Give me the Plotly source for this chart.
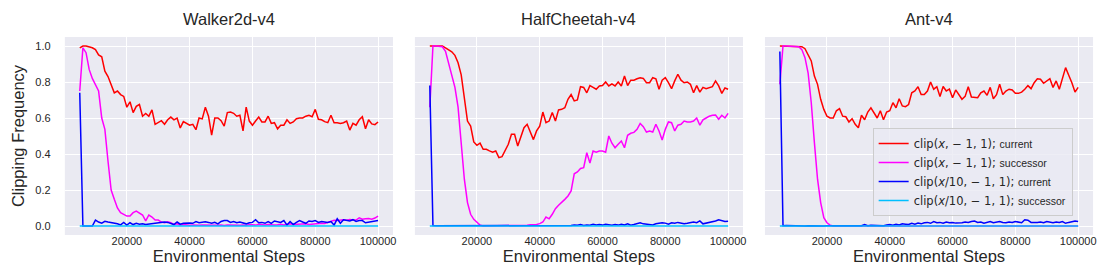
import plotly.graph_objects as go

steps = list(range(5000, 100001, 1000))

envs = ["Walker2d-v4", "HalfCheetah-v4", "Ant-v4"]
xticks = [20000, 40000, 60000, 80000, 100000]
yticks = [0.0, 0.2, 0.4, 0.6, 0.8, 1.0]

walker_cur = [0.99, 1.0, 1.0, 0.995, 0.99, 0.98, 0.95, 0.94, 0.86, 0.83,
              0.79, 0.74, 0.75, 0.73, 0.72, 0.66, 0.69, 0.63, 0.665, 0.675,
              0.61, 0.625, 0.61, 0.645, 0.565, 0.575, 0.585, 0.565, 0.59, 0.605,
              0.59, 0.60, 0.545, 0.58, 0.57, 0.56, 0.565, 0.535, 0.60, 0.595,
              0.66, 0.61, 0.505, 0.60, 0.60, 0.585, 0.555, 0.63, 0.633, 0.626,
              0.61, 0.615, 0.528, 0.66, 0.583, 0.56, 0.583, 0.605, 0.578, 0.578,
              0.61, 0.57, 0.574, 0.54, 0.56, 0.56, 0.59, 0.57, 0.578, 0.596,
              0.60, 0.60, 0.61, 0.615, 0.607, 0.648, 0.593, 0.59, 0.58, 0.574,
              0.615, 0.574, 0.574, 0.57, 0.574, 0.583, 0.533, 0.57, 0.56, 0.59,
              0.607, 0.54, 0.59, 0.567, 0.563, 0.578]
walker_succ = [0.75, 0.99, 0.963, 0.87, 0.82, 0.787, 0.75, 0.60, 0.537, 0.36,
               0.20, 0.148, 0.10, 0.074, 0.065, 0.055, 0.055, 0.074, 0.083, 0.074,
               0.061, 0.028, 0.061, 0.05, 0.033, 0.033, 0.022, 0.018, 0.024, 0.018,
               0.009, 0.012, 0.006, 0.008, 0.005, 0.004, 0.006, 0.003, 0.004, 0.005,
               0.004, 0.003, 0.005, 0.002, 0.004, 0.006, 0.003, 0.005, 0.004, 0.006,
               0.005, 0.004, 0.006, 0.003, 0.008, 0.006, 0.005, 0.01, 0.007, 0.006,
               0.008, 0.006, 0.005, 0.007, 0.01, 0.006, 0.008, 0.012, 0.009, 0.01,
               0.008, 0.01, 0.012, 0.009, 0.011, 0.01, 0.013, 0.015, 0.014, 0.02,
               0.03, 0.032, 0.03, 0.033, 0.035, 0.032, 0.036, 0.034, 0.033, 0.045,
               0.038, 0.04, 0.042, 0.038, 0.044, 0.055]
walker_cur10 = [0.74, 0.0, 0.0, 0.0, 0.0, 0.033, 0.022, 0.016, 0.026, 0.022,
                0.02, 0.015, 0.012, 0.006, 0.02, 0.005, 0.018, 0.008, 0.015, 0.01,
                0.012, 0.008, 0.01, 0.012, 0.015, 0.02, 0.018, 0.022, 0.02, 0.012,
                0.008, 0.022, 0.01, 0.015, 0.018, 0.017, 0.015, 0.025, 0.018, 0.02,
                0.024, 0.02, 0.015, 0.02, 0.012, 0.025, 0.03, 0.03, 0.02, 0.025,
                0.018, 0.022, 0.015, 0.012, 0.018, 0.02, 0.035, 0.018, 0.02, 0.015,
                0.025, 0.015, 0.028, 0.022, 0.02, 0.03, 0.005, 0.025, 0.008, 0.02,
                0.03, 0.022, 0.015, 0.028, 0.025, 0.03, 0.02, 0.025, 0.022, 0.02,
                0.025, 0.005, 0.04, 0.015, 0.035, 0.03, 0.028, 0.035, 0.025, 0.03,
                0.03, 0.018, 0.02, 0.022, 0.025, 0.03]
walker_succ10 = [0.0, 0.0, 0.0, 0.0, 0.0, 0.0, 0.0, 0.0, 0.0, 0.0,
                 0.0, 0.0, 0.0, 0.0, 0.0, 0.0, 0.0, 0.0, 0.0, 0.0,
                 0.0, 0.0, 0.0, 0.0, 0.0, 0.0, 0.0, 0.0, 0.0, 0.0,
                 0.0, 0.0, 0.0, 0.0, 0.0, 0.0, 0.0, 0.0, 0.0, 0.0,
                 0.0, 0.0, 0.0, 0.0, 0.0, 0.0, 0.0, 0.0, 0.0, 0.0,
                 0.0, 0.0, 0.0, 0.0, 0.0, 0.0, 0.0, 0.0, 0.0, 0.0,
                 0.0, 0.0, 0.0, 0.0, 0.0, 0.0, 0.0, 0.0, 0.0, 0.0,
                 0.0, 0.0, 0.0, 0.0, 0.0, 0.0, 0.0, 0.0, 0.0, 0.0,
                 0.0, 0.0, 0.0, 0.0, 0.0, 0.0, 0.0, 0.0, 0.0, 0.0,
                 0.0, 0.0, 0.0, 0.0, 0.0, 0.0]

cheetah_cur = [1.0, 1.0, 1.0, 1.0, 1.0, 0.99, 0.98, 0.968, 0.948, 0.907,
               0.84, 0.72, 0.583, 0.555, 0.467, 0.448, 0.46, 0.426, 0.426, 0.417,
               0.41, 0.417, 0.38, 0.385, 0.417, 0.454, 0.51, 0.51, 0.444, 0.49,
               0.546, 0.565, 0.518, 0.48, 0.528, 0.555, 0.633, 0.574, 0.583, 0.63,
               0.583, 0.645, 0.648, 0.657, 0.704, 0.73, 0.695, 0.70, 0.774, 0.77,
               0.74, 0.78, 0.77, 0.76, 0.778, 0.78, 0.80, 0.778, 0.79, 0.778,
               0.80, 0.778, 0.833, 0.78, 0.81, 0.81, 0.818, 0.824, 0.82, 0.796,
               0.796, 0.824, 0.818, 0.76, 0.81, 0.824, 0.796, 0.763, 0.806, 0.843,
               0.81, 0.796, 0.80, 0.787, 0.74, 0.78, 0.744, 0.77, 0.763, 0.77,
               0.774, 0.806, 0.778, 0.737, 0.767, 0.76]
cheetah_succ = [0.66, 1.0, 1.0, 1.0, 0.996, 0.97, 0.907, 0.84, 0.77, 0.66,
                0.463, 0.26, 0.13, 0.065, 0.037, 0.022, 0.005, 0.0, 0.0, 0.0,
                0.0, 0.0, 0.0, 0.0, 0.0, 0.0, 0.0, 0.0, 0.0, 0.0,
                0.0, 0.004, 0.007, 0.007, 0.009, 0.013, 0.022, 0.05, 0.04, 0.065,
                0.096, 0.115, 0.13, 0.148, 0.167, 0.195, 0.29, 0.30, 0.32, 0.324,
                0.407, 0.35, 0.417, 0.41, 0.417, 0.417, 0.41, 0.50, 0.46, 0.435,
                0.454, 0.472, 0.435, 0.504, 0.515, 0.52, 0.537, 0.57, 0.552, 0.522,
                0.528, 0.522, 0.565, 0.528, 0.478, 0.537, 0.578, 0.574, 0.528, 0.56,
                0.565, 0.583, 0.578, 0.578, 0.583, 0.60, 0.56, 0.59, 0.60, 0.61,
                0.615, 0.617, 0.593, 0.615, 0.60, 0.626]
cheetah_cur10 = [0.78, 0.002, 0.001, 0.001, 0.0, 0.0, 0.001, 0.0, 0.0, 0.0,
                 0.0, 0.001, 0.0, 0.0, 0.0, 0.0, 0.0, 0.0, 0.0, 0.001,
                 0.0, 0.0, 0.001, 0.0, 0.0, 0.0, 0.001, 0.0, 0.0, 0.0,
                 0.001, 0.0, 0.0, 0.0, 0.001, 0.0, 0.0, 0.001, 0.0, 0.0,
                 0.001, 0.0, 0.002, 0.001, 0.002, 0.003, 0.006, 0.004, 0.008, 0.003,
                 0.005, 0.004, 0.01, 0.006, 0.008, 0.005, 0.01, 0.008, 0.004, 0.008,
                 0.005, 0.01, 0.006, 0.012, 0.004, 0.008, 0.012, 0.018, 0.012, 0.01,
                 0.008, 0.006, 0.012, 0.015, 0.018, 0.016, 0.01, 0.018, 0.015, 0.02,
                 0.015, 0.012, 0.015, 0.02, 0.022, 0.018, 0.028, 0.012, 0.015, 0.022,
                 0.025, 0.028, 0.035, 0.03, 0.025, 0.026]
cheetah_succ10 = [0.0, 0.0, 0.0, 0.0, 0.0, 0.0, 0.0, 0.0, 0.0, 0.0,
                  0.0, 0.0, 0.0, 0.0, 0.0, 0.0, 0.0, 0.0, 0.0, 0.0,
                  0.0, 0.0, 0.0, 0.0, 0.0, 0.0, 0.0, 0.0, 0.0, 0.0,
                  0.0, 0.0, 0.0, 0.0, 0.0, 0.0, 0.0, 0.0, 0.0, 0.0,
                  0.0, 0.0, 0.0, 0.0, 0.0, 0.0, 0.0, 0.0, 0.0, 0.0,
                  0.0, 0.0, 0.0, 0.0, 0.0, 0.0, 0.0, 0.0, 0.0, 0.0,
                  0.0, 0.0, 0.0, 0.0, 0.0, 0.0, 0.0, 0.0, 0.0, 0.0,
                  0.0, 0.0, 0.0, 0.0, 0.0, 0.0, 0.0, 0.0, 0.0, 0.0,
                  0.0, 0.0, 0.0, 0.0, 0.0, 0.0, 0.0, 0.0, 0.0, 0.0,
                  0.0, 0.0, 0.0, 0.0, 0.0, 0.0]

ant_cur = [1.0, 1.0, 1.0, 1.0, 1.0, 1.0, 1.0, 0.996, 0.985, 0.954,
           0.917, 0.833, 0.787, 0.704, 0.648, 0.61, 0.60, 0.60, 0.64, 0.652,
           0.61, 0.607, 0.578, 0.596, 0.565, 0.546, 0.615, 0.59, 0.633, 0.657,
           0.63, 0.60, 0.64, 0.59, 0.633, 0.64, 0.685, 0.657, 0.707, 0.667,
           0.663, 0.675, 0.74, 0.75, 0.774, 0.73, 0.73, 0.75, 0.80, 0.76,
           0.774, 0.72, 0.775, 0.75, 0.76, 0.713, 0.756, 0.73, 0.704, 0.72,
           0.774, 0.717, 0.713, 0.713, 0.74, 0.75, 0.726, 0.77, 0.707, 0.73,
           0.787, 0.73, 0.75, 0.76, 0.756, 0.737, 0.737, 0.744, 0.76, 0.78,
           0.763, 0.796, 0.818, 0.815, 0.793, 0.806, 0.818, 0.77, 0.806, 0.76,
           0.818, 0.88, 0.837, 0.796, 0.744, 0.77]
ant_succ = [0.787, 1.0, 1.0, 1.0, 1.0, 1.0, 0.996, 0.98, 0.935, 0.85,
            0.685, 0.463, 0.26, 0.13, 0.046, 0.018, 0.005, 0.0, 0.0, 0.0,
            0.0, 0.0, 0.0, 0.0, 0.0, 0.0, 0.0, 0.0, 0.0, 0.0,
            0.0, 0.0, 0.0, 0.0, 0.0, 0.0, 0.0, 0.0, 0.0, 0.0,
            0.0, 0.0, 0.0, 0.0, 0.0, 0.0, 0.0, 0.0, 0.0, 0.0,
            0.0, 0.0, 0.0, 0.0, 0.0, 0.0, 0.0, 0.0, 0.0, 0.0,
            0.0, 0.0, 0.0, 0.0, 0.0, 0.0, 0.0, 0.0, 0.0, 0.0,
            0.0, 0.0, 0.0, 0.0, 0.0, 0.0, 0.0, 0.0, 0.0, 0.0,
            0.0, 0.0, 0.0, 0.0, 0.0, 0.0, 0.0, 0.0, 0.0, 0.0,
            0.0, 0.0, 0.0, 0.0, 0.0, 0.0]
ant_cur10 = [0.97, 0.002, 0.003, 0.002, 0.001, 0.002, 0.001, 0.0, 0.0, 0.001,
             0.0, 0.0, 0.001, 0.0, 0.0, 0.001, 0.0, 0.0, 0.001, 0.002,
             0.001, 0.0, 0.002, 0.001, 0.002, 0.003, 0.002, 0.008, 0.002, 0.004,
             0.003, 0.006, 0.004, 0.002, 0.005, 0.008, 0.004, 0.01, 0.006, 0.012,
             0.01, 0.008, 0.015, 0.01, 0.016, 0.012, 0.018, 0.02, 0.015, 0.025,
             0.018, 0.02, 0.015, 0.022, 0.018, 0.02, 0.016, 0.015, 0.018, 0.022,
             0.02, 0.025, 0.028, 0.02, 0.022, 0.015, 0.02, 0.025, 0.018, 0.022,
             0.025, 0.02, 0.018, 0.022, 0.02, 0.025, 0.022, 0.018, 0.035, 0.032,
             0.02, 0.018, 0.02, 0.022, 0.018, 0.025, 0.02, 0.018, 0.022, 0.02,
             0.025, 0.015, 0.02, 0.022, 0.028, 0.025]
ant_succ10 = [0.0, 0.0, 0.0, 0.0, 0.0, 0.0, 0.0, 0.0, 0.0, 0.0,
              0.0, 0.0, 0.0, 0.0, 0.0, 0.0, 0.0, 0.0, 0.0, 0.0,
              0.0, 0.0, 0.0, 0.0, 0.0, 0.0, 0.0, 0.0, 0.0, 0.0,
              0.0, 0.0, 0.0, 0.0, 0.0, 0.0, 0.0, 0.0, 0.0, 0.0,
              0.0, 0.0, 0.0, 0.0, 0.0, 0.0, 0.0, 0.0, 0.0, 0.0,
              0.0, 0.0, 0.0, 0.0, 0.0, 0.0, 0.0, 0.0, 0.0, 0.0,
              0.0, 0.0, 0.0, 0.0, 0.0, 0.0, 0.0, 0.0, 0.0, 0.0,
              0.0, 0.0, 0.0, 0.0, 0.0, 0.0, 0.0, 0.0, 0.0, 0.0,
              0.0, 0.0, 0.0, 0.0, 0.0, 0.0, 0.0, 0.0, 0.0, 0.0,
              0.0, 0.0, 0.0, 0.0, 0.0, 0.0]

series_names = [
    "clip(<i>x</i>, \u2212 1, 1); <span style='font-size:10.5px;font-family:Liberation Sans'>current</span>",
    "clip(<i>x</i>, \u2212 1, 1); <span style='font-size:10.5px;font-family:Liberation Sans'>successor</span>",
    "clip(<i>x</i>/10, \u2212 1, 1); <span style='font-size:10.5px;font-family:Liberation Sans'>current</span>",
    "clip(<i>x</i>/10, \u2212 1, 1); <span style='font-size:10.5px;font-family:Liberation Sans'>successor</span>",
]
colors = ["#FF0000", "#FF00FF", "#0000FF", "#00BFFF"]

data = [
    [walker_cur, walker_succ, walker_cur10, walker_succ10],
    [cheetah_cur, cheetah_succ, cheetah_cur10, cheetah_succ10],
    [ant_cur, ant_succ, ant_cur10, ant_succ10],
]

W, H = 1110, 278
domains = [(57, 386), (408, 737), (759, 1088)]
TOP, BOTTOM = 29, 227
TXT = "#262626"

fig = go.Figure()
for p, panel in enumerate(data):
    xa = "x" if p == 0 else f"x{p+1}"
    ya = "y" if p == 0 else f"y{p+1}"
    for s, ys in enumerate(panel):
        fig.add_trace(go.Scatter(
            x=steps, y=ys, mode="lines", name=series_names[s],
            line=dict(color=colors[s], width=1.5),
            xaxis=xa, yaxis=ya, showlegend=(p == 2),
        ))

layout = dict(
    width=W, height=H,
    margin=dict(l=0, r=0, t=TOP, b=H - BOTTOM, pad=0),
    paper_bgcolor="white", plot_bgcolor="#EAEAF2",
    font=dict(family="Liberation Sans, Arial, sans-serif", color=TXT, size=11),
    showlegend=True,
    legend=dict(
        x=867 / W, y=(BOTTOM - 120) / (BOTTOM - TOP), xanchor="left", yanchor="top",
        bgcolor="rgba(234,234,242,0.8)", bordercolor="#CCCCCC", borderwidth=1,
        font=dict(family="DejaVu Sans", size=11.5, color=TXT),
        itemwidth=30, tracegroupgap=0,
    ),
)
annotations = []
for p in range(3):
    sfx = "" if p == 0 else str(p + 1)
    x0, x1 = domains[p]
    layout["xaxis" + sfx] = dict(
        domain=[x0 / W, x1 / W], anchor="y" + sfx,
        range=[250, 104750], tickvals=xticks, tickformat="d",
        showgrid=True, gridcolor="white", gridwidth=1.2,
        zeroline=False, showline=False, ticks="",
        tickfont=dict(size=11, color=TXT), ticklabelstandoff=-2,
        title=dict(text="Environmental Steps", font=dict(size=16.5, color=TXT), standoff=3),
    )
    layout["yaxis" + sfx] = dict(
        domain=[0, 1], anchor="x" + sfx,
        range=[-0.05, 1.05], tickvals=yticks, tickformat=".1f",
        showgrid=True, gridcolor="white", gridwidth=1.2,
        zeroline=False, showline=False,
        ticks="outside", ticklen=11, tickcolor="rgba(0,0,0,0)",
        showticklabels=(p == 0),
        tickfont=dict(size=11, color=TXT),
    )
    if p == 0:
        layout["yaxis"]["title"] = dict(text="Clipping Frequency", font=dict(size=16.5, color=TXT), standoff=6)
    annotations.append(dict(
        text=envs[p], x=(x0 + x1) / 2 / W, y=1, xref="paper", yref="paper",
        xanchor="center", yanchor="bottom", yshift=7, showarrow=False,
        font=dict(size=16.5, color=TXT),
    ))
layout["annotations"] = annotations
fig.update_layout(**layout)

fig.write_html("out.html")
